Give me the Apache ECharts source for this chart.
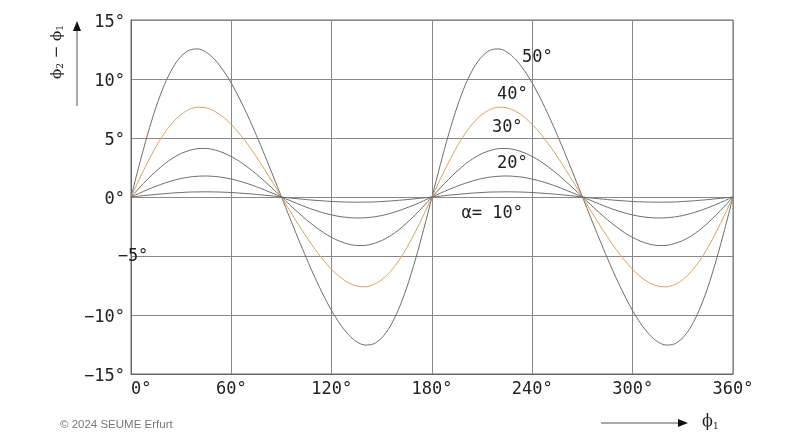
<!DOCTYPE html>
<html><head><meta charset="utf-8">
<script src="https://cdn.jsdelivr.net/npm/echarts@6/dist/echarts.min.js"></script>
<style>html,body{margin:0;padding:0;background:#fff}#c{width:800px;height:438px}</style>
</head><body><div id="c"></div>
<script>
var phi1 = [0,5,10,15,20,25,30,35,40,45,50,55,60,65,70,75,80,85,90,95,100,105,110,115,120,125,130,135,140,145,150,155,160,165,170,175,180,185,190,195,200,205,210,215,220,225,230,235,240,245,250,255,260,265,270,275,280,285,290,295,300,305,310,315,320,325,330,335,340,345,350,355,360];
var a50 = [0,2.75,5.34,7.63,9.52,10.96,11.93,12.45,12.55,12.27,11.66,10.76,9.64,8.31,6.83,5.22,3.53,1.78,0,-1.78,-3.53,-5.22,-6.83,-8.31,-9.64,-10.76,-11.66,-12.27,-12.55,-12.45,-11.93,-10.96,-9.52,-7.63,-5.34,-2.75,0,2.75,5.34,7.63,9.52,10.96,11.93,12.45,12.55,12.27,11.66,10.76,9.64,8.31,6.83,5.22,3.53,1.78,0,-1.78,-3.53,-5.22,-6.83,-8.31,-9.64,-10.76,-11.66,-12.27,-12.55,-12.45,-11.93,-10.96,-9.52,-7.63,-5.34,-2.75,0];
var a40 = [0,1.52,2.96,4.28,5.42,6.33,7.00,7.43,7.61,7.55,7.27,6.79,6.14,5.34,4.42,3.40,2.31,1.17,0,-1.17,-2.31,-3.40,-4.42,-5.34,-6.14,-6.79,-7.27,-7.55,-7.61,-7.43,-7.00,-6.33,-5.42,-4.28,-2.96,-1.52,0,1.52,2.96,4.28,5.42,6.33,7.00,7.43,7.61,7.55,7.27,6.79,6.14,5.34,4.42,3.40,2.31,1.17,0,-1.17,-2.31,-3.40,-4.42,-5.34,-6.14,-6.79,-7.27,-7.55,-7.61,-7.43,-7.00,-6.33,-5.42,-4.28,-2.96,-1.52,0];
var a30 = [0,0.77,1.51,2.19,2.80,3.30,3.69,3.95,4.10,4.11,3.99,3.76,3.43,3.01,2.50,1.94,1.32,0.67,0,-0.67,-1.32,-1.94,-2.50,-3.01,-3.43,-3.76,-3.99,-4.11,-4.10,-3.95,-3.69,-3.30,-2.80,-2.19,-1.51,-0.77,0,0.77,1.51,2.19,2.80,3.30,3.69,3.95,4.10,4.11,3.99,3.76,3.43,3.01,2.50,1.94,1.32,0.67,0,-0.67,-1.32,-1.94,-2.50,-3.01,-3.43,-3.76,-3.99,-4.11,-4.10,-3.95,-3.69,-3.30,-2.80,-2.19,-1.51,-0.77,0];
var a20 = [0,0.32,0.63,0.91,1.17,1.39,1.57,1.69,1.76,1.78,1.74,1.66,1.52,1.34,1.12,0.87,0.59,0.30,0,-0.30,-0.59,-0.87,-1.12,-1.34,-1.52,-1.66,-1.74,-1.78,-1.76,-1.69,-1.57,-1.39,-1.17,-0.91,-0.63,-0.32,0,0.32,0.63,0.91,1.17,1.39,1.57,1.69,1.76,1.78,1.74,1.66,1.52,1.34,1.12,0.87,0.59,0.30,0,-0.30,-0.59,-0.87,-1.12,-1.34,-1.52,-1.66,-1.74,-1.78,-1.76,-1.69,-1.57,-1.39,-1.17,-0.91,-0.63,-0.32,0];
var a10 = [0,0.08,0.15,0.22,0.28,0.34,0.38,0.42,0.43,0.44,0.43,0.41,0.38,0.33,0.28,0.22,0.15,0.08,0,-0.08,-0.15,-0.22,-0.28,-0.33,-0.38,-0.41,-0.43,-0.44,-0.43,-0.42,-0.38,-0.34,-0.28,-0.22,-0.15,-0.08,0,0.08,0.15,0.22,0.28,0.34,0.38,0.42,0.43,0.44,0.43,0.41,0.38,0.33,0.28,0.22,0.15,0.08,0,-0.08,-0.15,-0.22,-0.28,-0.33,-0.38,-0.41,-0.43,-0.44,-0.43,-0.42,-0.38,-0.34,-0.28,-0.22,-0.15,-0.08,0];
var curveLabels = ['50°','40°','30°','20°','α= 10°'];
var labelX = [243,228,225,228,216];
var labelY = [11.8,8.7,5.9,2.8,-1.4];
var yTicks = {'15':'15°','10':'10°','5':'5°','0':'0°','-5':'','-10':'−10°','-15':'−15°'};

var mono = '"DejaVu Sans Mono", monospace';
var FS = 17;
function pairs(ys){ return phi1.map(function(x,i){return [x, ys[i]];}); }
function mkSeries(ys, color){
  return {type:'line', data:pairs(ys), smooth:0.3, symbol:'none', silent:true,
    lineStyle:{color:color, width:1}};
}
var lblData = curveLabels.map(function(t,i){ return {name:t, coord:[labelX[i], labelY[i]], value:t}; });
lblData.push({name:'m5', coord:[0,-5], value:'−5°', label:{offset:[2,1]}});

var series = [mkSeries(a50,'#6e6e6e'), mkSeries(a40,'#e0a060'), mkSeries(a30,'#6e6e6e'), mkSeries(a20,'#6e6e6e'), mkSeries(a10,'#6e6e6e')];
series[0].markPoint = {symbol:'circle', symbolSize:0, silent:true,
  label:{show:true, formatter:function(p){return p.value;}, color:'#222', fontFamily:mono, fontSize:FS},
  data:lblData};

var chart = echarts.init(document.getElementById('c'));
chart.setOption({
  animation:false,
  backgroundColor:'#fff',
  grid:{left:131, right:67, top:20, bottom:64},
  xAxis:{type:'value', min:0, max:360, interval:60,
    axisLine:{show:true, onZero:false, lineStyle:{color:'#666', width:1}},
    axisTick:{show:false},
    splitLine:{show:true, lineStyle:{color:'#888', width:1}},
    axisLabel:{color:'#222', fontFamily:mono, fontSize:FS, margin:7, alignMinLabel:'left', formatter:function(v){return v+'°';}}
  },
  yAxis:{type:'value', min:-15, max:15, interval:5,
    axisLine:{show:true, onZero:false, lineStyle:{color:'#666', width:1}},
    axisTick:{show:false},
    splitLine:{show:true, lineStyle:{color:'#888', width:1}},
    axisLabel:{color:'#222', fontFamily:mono, fontSize:FS, margin:6,
      formatter:function(v){var t=yTicks[String(v)]; return t ? '{a|'+t+'}' : '';},
      rich:{a:{fontFamily:mono, fontSize:FS, color:'#222', padding:[6,0,0,0]}}}
  },
  series:series,
  graphic:[
    {type:'rect', shape:{x:131,y:20,width:602,height:354}, style:{fill:'none', stroke:'#666', lineWidth:1}, silent:true},
    {type:'line', shape:{x1:77,y1:106,x2:77,y2:30}, style:{stroke:'#555', lineWidth:1}},
    {type:'polygon', shape:{points:[[73,31],[81,31],[77,21]]}, style:{fill:'#111'}},
    {type:'text', x:57, y:52, rotation:Math.PI/2,
      style:{text:'{b|ϕ}{s|2}{b| − ϕ}{s|1}', align:'center', verticalAlign:'middle',
        rich:{b:{fontFamily:'"DejaVu Serif", serif', fontSize:15, fill:'#222'}, s:{fontFamily:'"DejaVu Serif", serif', fontSize:9, fill:'#222', padding:[8,0,0,0]}}}},
    {type:'line', shape:{x1:601,y1:423,x2:680,y2:423}, style:{stroke:'#555', lineWidth:1}},
    {type:'polygon', shape:{points:[[678,419],[678,427],[688,423]]}, style:{fill:'#111'}},
    {type:'text', x:702, y:422,
      style:{text:'{b|ϕ}{s|1}', verticalAlign:'middle',
        rich:{b:{fontFamily:'"DejaVu Serif", serif', fontSize:16, fill:'#222'}, s:{fontFamily:'"DejaVu Serif", serif', fontSize:9, fill:'#222', padding:[10,0,0,0]}}}},
    {type:'text', x:60, y:425, style:{text:'© 2024 SEUME Erfurt', fontFamily:'"Liberation Sans", Arial, sans-serif', fontSize:11.5, fill:'#777', verticalAlign:'middle'}}
  ]
});
</script></body></html>
